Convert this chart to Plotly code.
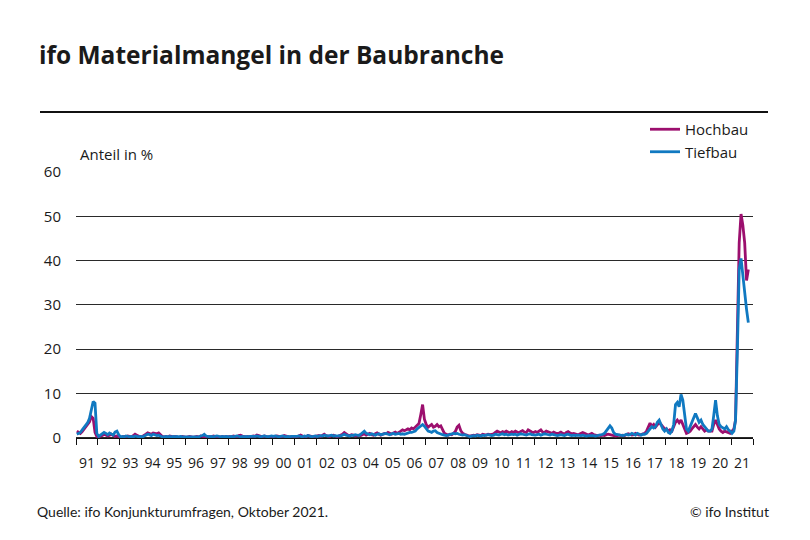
import pandas as pd
import plotly.graph_objects as go

# Monthly shares (percent), Jan 1991 - Oct 2021
hochbau = [
    1.5, 1.2, 1.0, 1.4, 2.0, 2.4, 3.0, 3.6, 4.8, 4.4, 1.2, 0.3,   # 1991
    0.2, 0.3, 0.5, 0.8, 0.6, 0.4, 0.6, 0.8, 0.5, 0.3, 0.4, 0.2,   # 1992
    0.1, 0.2, 0.3, 0.2, 0.4, 0.3, 0.2, 0.5, 0.8, 0.6, 0.3, 0.2,   # 1993
    0.3, 0.5, 0.8, 1.1, 1.0, 0.8, 1.1, 1.0, 0.9, 1.1, 0.6, 0.3,   # 1994
    0.2, 0.3, 0.2, 0.4, 0.3, 0.2, 0.3, 0.2, 0.1, 0.2, 0.3, 0.2,   # 1995
    0.1, 0.2, 0.3, 0.2, 0.1, 0.2, 0.3, 0.2, 0.4, 0.3, 0.2, 0.1,   # 1996
    0.2, 0.3, 0.2, 0.4, 0.3, 0.2, 0.1, 0.2, 0.3, 0.2, 0.3, 0.2,   # 1997
    0.3, 0.2, 0.4, 0.3, 0.2, 0.5, 0.6, 0.4, 0.3, 0.2, 0.3, 0.2,   # 1998
    0.3, 0.4, 0.3, 0.6, 0.5, 0.3, 0.2, 0.4, 0.3, 0.2, 0.3, 0.2,   # 1999
    0.2, 0.3, 0.4, 0.3, 0.2, 0.3, 0.5, 0.4, 0.3, 0.2, 0.3, 0.2,   # 2000
    0.3, 0.2, 0.4, 0.6, 0.4, 0.3, 0.2, 0.5, 0.4, 0.3, 0.2, 0.3,   # 2001
    0.4, 0.5, 0.3, 0.6, 0.8, 0.5, 0.4, 0.3, 0.5, 0.6, 0.4, 0.3,   # 2002
    0.4, 0.6, 0.8, 1.2, 0.9, 0.6, 0.5, 0.7, 0.6, 0.4, 0.5, 0.6,   # 2003
    0.5, 0.7, 0.9, 0.6, 0.8, 1.0, 0.7, 0.6, 0.9, 1.1, 0.8, 0.6,   # 2004
    0.8, 1.0, 0.9, 1.2, 1.0, 0.8, 1.1, 1.3, 1.0, 1.2, 1.5, 1.8,   # 2005
    1.6, 1.8, 2.0, 1.8, 2.2, 2.0, 2.4, 2.8, 3.2, 5.2, 7.5, 4.2,   # 2006
    3.0, 2.4, 2.8, 3.0, 2.4, 2.6, 3.0, 2.5, 2.7, 1.8, 1.0, 0.8,   # 2007
    0.6, 0.8, 0.7, 1.0, 1.4, 2.4, 2.8, 1.6, 1.0, 0.8, 0.6, 0.5,   # 2008
    0.4, 0.5, 0.6, 0.5, 0.7, 0.6, 0.5, 0.8, 0.7, 0.6, 0.8, 0.7,   # 2009
    0.8, 0.9, 1.2, 1.5, 1.3, 1.1, 1.4, 1.2, 1.5, 1.3, 1.1, 1.4,   # 2010
    1.2, 1.5, 1.3, 1.1, 1.4, 1.6, 1.3, 1.2, 1.8, 1.5, 1.3, 1.2,   # 2011
    1.4, 1.2, 1.5, 1.8, 1.3, 1.2, 1.5, 1.4, 1.2, 1.0, 1.3, 1.1,   # 2012
    0.9, 1.1, 1.3, 1.0, 0.8, 1.2, 1.4, 1.1, 0.9, 1.0, 0.8, 0.7,   # 2013
    0.8, 1.0, 1.2, 1.0, 0.8, 0.6, 0.8, 1.0, 0.7, 0.6, 0.5, 0.6,   # 2014
    0.5, 0.6, 0.5, 0.7, 0.8, 0.7, 0.6, 0.5, 0.4, 0.5, 0.6, 0.5,   # 2015
    0.6, 0.5, 0.7, 0.9, 0.8, 0.6, 0.7, 1.0, 0.8, 0.6, 0.7, 0.9,   # 2016
    1.0, 1.5, 2.6, 3.3, 2.6, 3.0, 2.4, 3.0, 3.5, 3.0, 2.4, 2.0,   # 2017
    2.0, 1.5, 1.8, 1.5, 2.5, 3.5, 4.0, 3.4, 4.0, 3.0, 2.0, 1.0,   # 2018
    1.2, 1.5, 2.0, 2.6, 3.0, 2.4, 2.0, 2.5, 2.0, 1.5, 1.8, 1.5,   # 2019
    1.5, 1.5, 3.0, 4.0, 3.0, 2.0, 1.5, 1.2, 1.5, 1.3, 1.2, 1.0,   # 2020
    1.5, 2.0, 4.0, 24.0, 44.0, 50.5, 48.0, 44.0, 35.5, 38.0,       # 2021
]

tiefbau = [
    0.8, 1.0, 1.2, 1.8, 2.4, 3.0, 3.4, 4.4, 6.8, 8.2, 7.8, 1.0,   # 1991
    0.3, 0.6, 1.0, 1.2, 1.0, 0.7, 1.1, 0.9, 0.6, 1.3, 1.5, 0.7,   # 1992
    0.2, 0.3, 0.2, 0.4, 0.3, 0.2, 0.3, 0.2, 0.4, 0.3, 0.2, 0.3,   # 1993
    0.2, 0.4, 0.6, 0.8, 0.7, 0.5, 0.8, 0.7, 0.5, 0.6, 0.3, 0.2,   # 1994
    0.2, 0.3, 0.2, 0.3, 0.2, 0.3, 0.2, 0.3, 0.2, 0.3, 0.2, 0.2,   # 1995
    0.2, 0.3, 0.2, 0.3, 0.2, 0.2, 0.3, 0.2, 0.4, 0.5, 0.8, 0.4,   # 1996
    0.3, 0.2, 0.3, 0.2, 0.3, 0.4, 0.3, 0.2, 0.3, 0.2, 0.3, 0.2,   # 1997
    0.2, 0.3, 0.2, 0.3, 0.4, 0.3, 0.2, 0.3, 0.2, 0.3, 0.2, 0.3,   # 1998
    0.3, 0.2, 0.3, 0.4, 0.3, 0.2, 0.3, 0.4, 0.3, 0.2, 0.3, 0.4,   # 1999
    0.3, 0.4, 0.3, 0.2, 0.3, 0.4, 0.3, 0.2, 0.3, 0.2, 0.3, 0.3,   # 2000
    0.2, 0.3, 0.4, 0.3, 0.2, 0.4, 0.3, 0.5, 0.3, 0.2, 0.3, 0.4,   # 2001
    0.3, 0.4, 0.5, 0.4, 0.6, 0.5, 0.4, 0.5, 0.6, 0.4, 0.5, 0.4,   # 2002
    0.5, 0.4, 0.6, 0.8, 0.6, 0.5, 0.4, 0.6, 0.5, 0.7, 0.6, 0.5,   # 2003
    0.8, 1.2, 1.5, 1.0, 0.8, 0.7, 0.9, 0.8, 0.6, 0.8, 0.9, 0.7,   # 2004
    0.8, 0.9, 1.0, 0.8, 0.7, 0.9, 1.0, 0.8, 0.9, 1.0, 0.8, 0.9,   # 2005
    0.8, 1.0, 1.0, 1.2, 1.2, 1.4, 1.5, 2.0, 2.4, 2.8, 3.0, 2.6,   # 2006
    2.0, 1.5, 1.4, 1.2, 1.5, 1.6, 1.2, 1.0, 0.8, 0.7, 0.6, 0.5,   # 2007
    0.6, 0.7, 0.8, 1.0, 0.9, 1.0, 0.8, 0.7, 0.6, 0.7, 0.5, 0.4,   # 2008
    0.3, 0.4, 0.5, 0.4, 0.6, 0.5, 0.4, 0.6, 0.5, 0.6, 0.7, 0.6,   # 2009
    0.5, 0.6, 0.8, 0.7, 0.6, 0.8, 0.9, 0.7, 0.8, 0.6, 0.7, 0.8,   # 2010
    0.7, 0.8, 0.6, 0.7, 0.9, 0.8, 0.7, 0.6, 0.8, 0.9, 0.7, 0.6,   # 2011
    0.6, 0.7, 0.8, 0.6, 0.7, 0.9, 0.8, 0.7, 0.6, 0.8, 0.7, 0.6,   # 2012
    0.5, 0.6, 0.7, 0.6, 0.5, 0.7, 0.8, 0.6, 0.5, 0.6, 0.5, 0.6,   # 2013
    0.5, 0.5, 0.6, 0.5, 0.4, 0.5, 0.5, 0.6, 0.5, 0.4, 0.5, 0.6,   # 2014
    0.6, 0.8, 1.0, 1.5, 2.2, 2.7, 2.2, 1.2, 0.8, 0.7, 0.6, 0.5,   # 2015
    0.5, 0.6, 0.8, 0.6, 0.7, 1.0, 0.8, 0.6, 1.0, 0.7, 0.6, 0.8,   # 2016
    0.8, 1.0, 1.5, 2.0, 2.5, 2.2, 2.5, 3.5, 4.0, 3.0, 2.0, 1.5,   # 2017
    2.0, 1.2, 1.0, 1.5, 3.0, 7.5, 8.0, 7.0, 9.8, 8.5, 5.5, 2.0,   # 2018
    1.5, 2.5, 3.5, 4.5, 5.5, 4.5, 3.5, 4.0, 3.0, 2.5, 2.0, 1.5,   # 2019
    1.5, 2.0, 5.0, 8.5, 5.0, 3.0, 2.5, 2.2, 2.0, 2.5, 1.8, 1.5,   # 2020
    1.0, 1.5, 4.0, 20.0, 38.0, 40.5, 36.5, 32.0, 29.0, 26.0,       # 2021
]

years = list(range(1991, 2022))
year_labels = [f"{y % 100:02d}" for y in years]
y_ticks = [0, 10, 20, 30, 40, 50, 60]

months = pd.date_range("1991-01-01", periods=len(hochbau), freq="MS") + pd.Timedelta(days=14)

MAGENTA = "#9c0f6e"
BLUE = "#1079c1"
TXT = "#1a1a1a"
FONT = "Open Sans"

OFF = 8                      # page body margin of the browser
W, H = 810 - OFF, 540 - OFF
L, R, T, B = 76 - OFF, 753 - OFF, 172 - OFF, 440 - OFF   # plot area (pixels)
YMIN, YMAX = -0.5, 60


def px(x):
    return (x - OFF - L) / (R - L)


def py(y):
    return (B - (y - OFF)) / (B - T)


fig = go.Figure()
fig.add_trace(go.Scatter(x=months, y=hochbau, mode="lines", name="Hochbau",
                         line=dict(color=MAGENTA, width=2.8)))
fig.add_trace(go.Scatter(x=months, y=tiefbau, mode="lines", name="Tiefbau",
                         line=dict(color=BLUE, width=2.8)))

zero_pos = (0 - YMIN) / (YMAX - YMIN)

fig.update_layout(
    width=W, height=H,
    margin=dict(l=L, r=W - R, t=T, b=H - B),
    paper_bgcolor="white", plot_bgcolor="white",
    font=dict(family=FONT, color=TXT, size=14),
    showlegend=True,
    legend=dict(x=px(645), y=py(113), xanchor="left", yanchor="top",
                font=dict(size=15, family=FONT, color=TXT),
                bgcolor="rgba(0,0,0,0)", tracegroupgap=0,
                itemwidth=30),
    title=dict(text="ifo Materialmangel in der Baubranche",
               x=(39 - OFF) / W, y=1 - (55 - OFF) / H,
               xref="container", yref="container",
               xanchor="left", yanchor="middle",
               font=dict(family=FONT, size=24.5, color=TXT, weight=700)),
    xaxis=dict(
        type="date",
        range=["1991-01-01", "2022-01-01"],
        anchor="free", position=zero_pos,
        showgrid=False, zeroline=False,
        showline=True, linecolor="#111", linewidth=1.2,
        tickvals=[f"{y}-07-02" for y in years],
        ticktext=year_labels,
        ticks="outside", ticklen=12, tickcolor="rgba(0,0,0,0)",
        tickfont=dict(size=14, family=FONT, color=TXT),
        minor=dict(tickvals=[f"{y}-01-01" for y in years + [2022]],
                   ticks="outside", ticklen=6, tickcolor="#111", tickwidth=1,
                   showgrid=False),
    ),
    yaxis=dict(
        range=[YMIN, YMAX],
        tickvals=y_ticks,
        showgrid=True, gridcolor="#2a2a2a", gridwidth=1,
        zeroline=False, showline=False,
        ticks="", ticklabelstandoff=14,
        tickfont=dict(size=15, family=FONT, color=TXT),
    ),
)

# horizontal rule under the title
fig.add_shape(type="line", xref="paper", yref="paper",
              x0=px(40), x1=px(768), y0=py(112), y1=py(112),
              line=dict(color="#111", width=2))

fig.add_annotation(text="Anteil in %", xref="paper", yref="paper",
                   x=px(78), y=py(154), xanchor="left", yanchor="middle",
                   showarrow=False, font=dict(size=15, family=FONT, color=TXT))
fig.add_annotation(text="Quelle: ifo Konjunkturumfragen, Oktober 2021.",
                   xref="paper", yref="paper", x=px(35), y=py(512),
                   xanchor="left", yanchor="middle", showarrow=False,
                   font=dict(size=14, family="Lato", color=TXT))
fig.add_annotation(text="© ifo Institut",
                   xref="paper", yref="paper", x=px(771), y=py(512),
                   xanchor="right", yanchor="middle", showarrow=False,
                   font=dict(size=14, family="Lato", color=TXT))

fig.write_html("out.html")
